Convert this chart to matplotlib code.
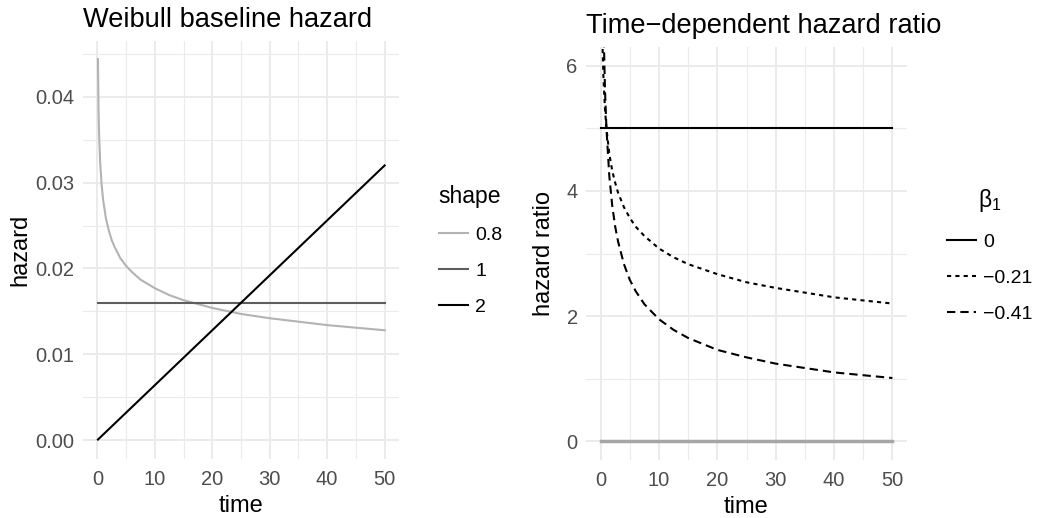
import matplotlib
matplotlib.use("Agg")
import matplotlib.pyplot as plt
from matplotlib.lines import Line2D

plt.rcParams['font.family'] = ['Liberation Sans', 'DejaVu Sans']
plt.rcParams['mathtext.fontset'] = 'custom'
plt.rcParams['mathtext.rm'] = 'Liberation Sans'
plt.rcParams['mathtext.it'] = 'Liberation Sans'

# values
time_pts = [0.1, 0.2, 0.3, 0.5, 0.75, 1, 1.5, 2, 2.5, 3, 4, 5, 6, 7.5,
            10, 12.5, 15, 20, 25, 30, 40, 50]
haz_shape08 = [0.0444, 0.0386, 0.0356, 0.0322, 0.0297, 0.0280, 0.0258, 0.0244,
               0.0233, 0.0225, 0.0212, 0.0203, 0.0196, 0.0187, 0.0177, 0.0169,
               0.0163, 0.0154, 0.0147, 0.0142, 0.0134, 0.0128]
haz_shape1 = [0.016] * 22
haz_shape2 = [0.000064, 0.000128, 0.000192, 0.00032, 0.00048, 0.00064, 0.00096,
              0.00128, 0.0016, 0.00192, 0.00256, 0.0032, 0.00384, 0.0048, 0.0064,
              0.008, 0.0096, 0.0128, 0.016, 0.0192, 0.0256, 0.032]
shape_labels = ['0.8', '1', '2']

hr_b0 = [5.0] * 22
hr_b021 = [8.11, 7.01, 6.44, 5.78, 5.31, 5.00, 4.59, 4.32, 4.13, 3.97, 3.74,
           3.57, 3.43, 3.28, 3.08, 2.94, 2.83, 2.67, 2.54, 2.45, 2.30, 2.20]
hr_b041 = [12.85, 9.67, 8.19, 6.64, 5.63, 5.00, 4.23, 3.76, 3.43, 3.19, 2.83,
           2.58, 2.40, 2.19, 1.95, 1.78, 1.65, 1.46, 1.34, 1.24, 1.10, 1.01]
hr_zero = [0.0] * 22
beta_labels = ['0', '\u22120.21', '\u22120.41']

W, H = 1037, 518
fig = plt.figure(figsize=(W / 100, H / 100), dpi=100)

DOT = (2, 2)
DASH = (4, 2.4)

def style(ax, xlim, ylim, xmaj, xmin, ymaj, ymin):
    ax.set_xlim(*xlim)
    ax.set_ylim(*ylim)
    ax.set_xticks(xmaj)
    ax.set_xticks(xmin, minor=True)
    ax.set_yticks(ymaj)
    ax.set_yticks(ymin, minor=True)
    ax.grid(which='major', color='#EBEBEB', lw=1.4)
    ax.grid(which='minor', color='#EBEBEB', lw=0.8)
    ax.set_axisbelow(True)
    for s in ax.spines.values():
        s.set_visible(False)
    ax.tick_params(which='both', length=0, labelsize=14.5, labelcolor='#4D4D4D', pad=6)
    ax.tick_params(axis='x', pad=8)
    ax.set_xlabel('time', fontsize=17, labelpad=4)

# left panel
ax1 = fig.add_axes([83 / W, 1 - 459 / H, 316 / W, 418 / H])
style(ax1, (-2.5, 52.5), (-0.0022, 0.0465), [0, 10, 20, 30, 40, 50], [5, 15, 25, 35, 45],
      [0, 0.01, 0.02, 0.03, 0.04], [0.005, 0.015, 0.025, 0.035, 0.045])
ax1.set_yticklabels(['0.00', '0.01', '0.02', '0.03', '0.04'])
cols = ['#B3B3B3', '#5E5E5E', '#000000']
for vals, c in zip([haz_shape08, haz_shape1, haz_shape2], cols):
    ax1.plot(time_pts, vals, color=c, lw=1.5)
ax1.set_ylabel('hazard', fontsize=17, labelpad=3)
ax1.set_title('Weibull baseline hazard', fontsize=19.6, loc='left', pad=10, x=0.0)
h1 = [Line2D([], [], color=c, lw=1.5) for c in cols]
ax1.legend(h1, shape_labels, title='shape', loc='upper left',
           bbox_to_anchor=(421 / W, 1 - 167 / H), bbox_transform=fig.transFigure,
           frameon=False, fontsize=14, title_fontsize=16.5, handlelength=1.5,
           handletextpad=0.4, labelspacing=0.95, alignment='left')

# right panel
ax2 = fig.add_axes([586 / W, 1 - 460 / H, 321 / W, 413 / H])
style(ax2, (-2.5, 52.5), (-0.3, 6.3), [0, 10, 20, 30, 40, 50], [5, 15, 25, 35, 45],
      [0, 2, 4, 6], [1, 3, 5])
ax2.plot(time_pts, hr_zero, color='#A6A6A6', lw=2.5)
ax2.plot(time_pts, hr_b0, color='black', lw=1.5)
ax2.plot(time_pts, hr_b021, color='black', lw=1.5, dashes=DOT)
ax2.plot(time_pts, hr_b041, color='black', lw=1.5, dashes=DASH)
ax2.set_ylabel('hazard ratio', fontsize=17, labelpad=8)
ax2.set_title('Time\u2212dependent hazard ratio', fontsize=19.6, loc='left', pad=10, x=0.0)
h2 = [Line2D([], [], color='black', lw=1.5),
      Line2D([], [], color='black', lw=1.5, dashes=DOT),
      Line2D([], [], color='black', lw=1.5, dashes=DASH)]
ax2.legend(h2, beta_labels, title='\u03b2$_1$', loc='upper left',
           bbox_to_anchor=(929 / W, 1 - 170 / H), bbox_transform=fig.transFigure,
           frameon=False, fontsize=14, title_fontsize=16.5, handlelength=1.5,
           handletextpad=0.4, labelspacing=0.95, alignment='center')

fig.savefig('out.png', dpi=100)
